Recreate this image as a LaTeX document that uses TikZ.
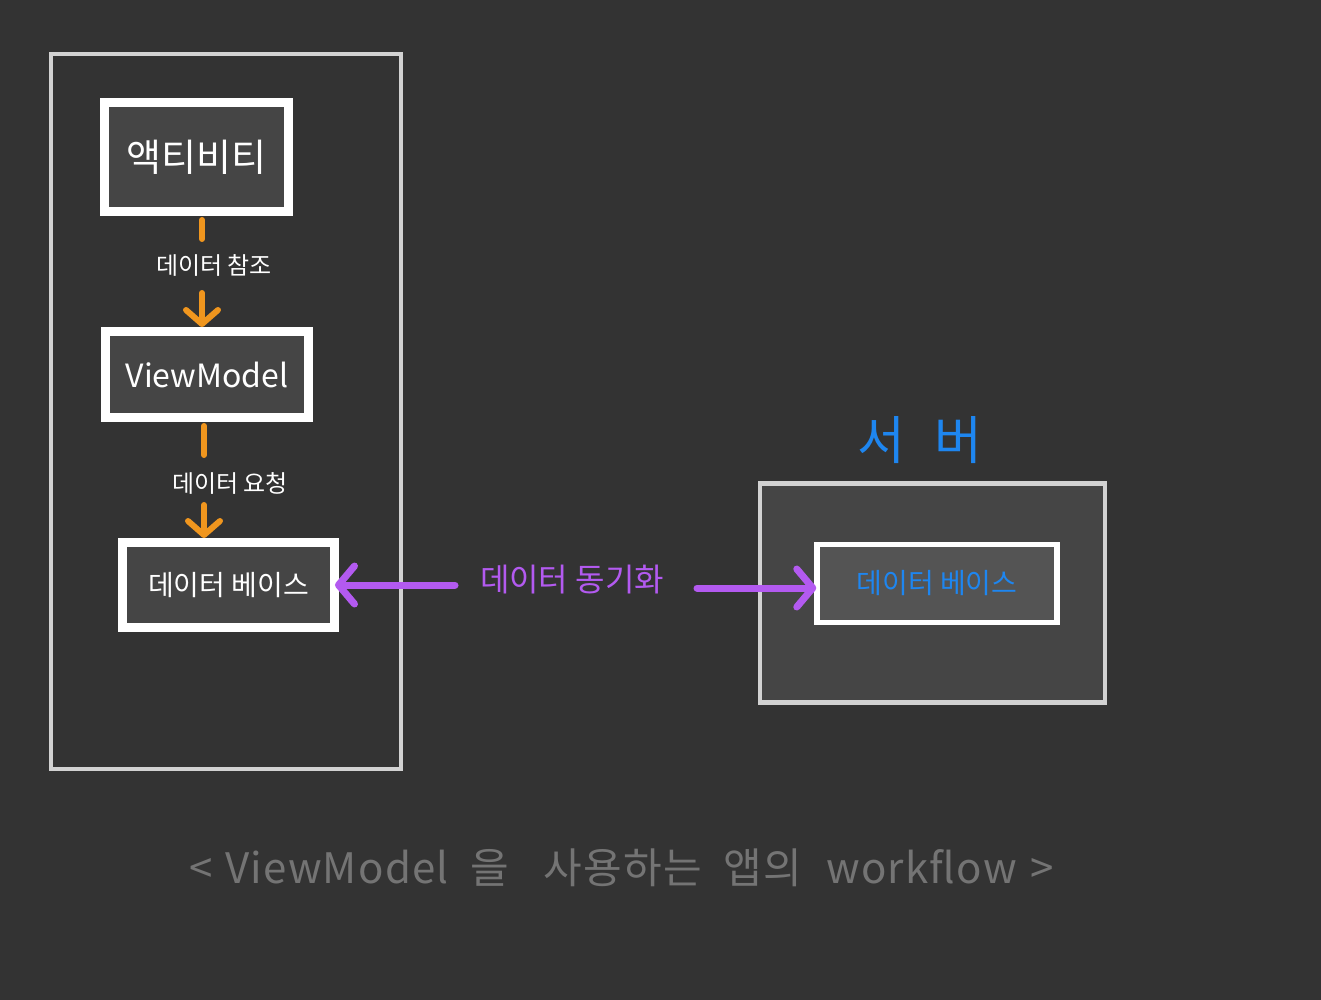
\documentclass[tikz,border=0pt]{standalone}
\usepackage{fontspec}
\setmainfont{Noto Sans CJK KR}
\usetikzlibrary{arrows.meta}
\definecolor{bg}{HTML}{333333}
\definecolor{boxfill}{HTML}{454545}
\definecolor{frame}{HTML}{D2D2D2}
\definecolor{orng}{HTML}{F0961E}
\definecolor{purp}{HTML}{B35AF0}
\definecolor{blu}{HTML}{1E86F0}
\definecolor{cap}{HTML}{747474}
\tikzset{
  whitebox/.style={draw=white, line width=9pt, fill=boxfill, text=white, inner sep=0pt},
  framebox/.style={draw=frame, line width=4.5pt, inner sep=0pt},
  lbl/.style={text=white, font=\fontsize{24}{28}\selectfont, inner sep=2pt},
  orarrow/.style={draw=orng, line width=6pt, line cap=round},
  orhead/.style={orarrow, -{Straight Barb[length=14pt, width=32pt, line width=6pt, round]}},
  pparrow/.style={draw=purp, line width=7pt, line cap=round, -{Straight Barb[length=16pt, width=38pt, line width=7pt, round]}},
}
\begin{document}
\begin{tikzpicture}[x=1pt, y=-1pt]
\fill[bg] (0,0) rectangle (1321,1000);
\useasboundingbox (0,0) rectangle (1321,1000);
% left frame
\node[framebox, minimum width=350pt, minimum height=715pt] (app) at (226,411.5) {};
% boxes
\node[whitebox, minimum width=184pt, minimum height=109pt, font=\fontsize{38}{44}\selectfont] (act) at (196.5,157) {액티비티};
\node[whitebox, minimum width=203pt, minimum height=86pt, font=\fontsize{32}{38}\selectfont] (vm) at (207,374.5) {ViewModel};
\node[whitebox, minimum width=212pt, minimum height=85pt, font=\fontsize{28}{34}\selectfont] (dbl) at (228.5,585) {데이터 베이스};
% labels
\node[lbl] (l1) at (214,265) {데이터 참조};
\node[lbl] (l2) at (230,483) {데이터 요청};
% orange connectors
\draw[orarrow] (act.south -| 202,0) ++(0,4) -- (202,239);
\draw[orhead] (202,293) -- (vm.north -| 202,0);
\draw[orarrow] (vm.south -| 204,0) ++(0,4) -- (204,455);
\draw[orhead] (204,505) -- (dbl.north -| 204,0);
% server
\node[text=blu, font=\fontsize{52}{58}\selectfont] (srvt) at (920,440) {서\hspace{30pt}버};
\node[framebox, fill=boxfill, minimum width=345pt, minimum height=219pt] (srv) at (932.5,593) {};
\node[draw=white, line width=5.5pt, fill=boxfill!92!white, minimum width=240pt, minimum height=78pt, text=blu, font=\fontsize{28}{34}\selectfont, inner sep=0pt] (dbs) at (937,583.5) {데이터 베이스};
% sync
\node[text=purp, font=\fontsize{32}{38}\selectfont, inner sep=2pt] (sync) at (572,580) {데이터 동기화};
\draw[pparrow] (455,585) -- ([xshift=-4pt]dbl.east |- 0,585);
\draw[pparrow] (697,588) -- ([xshift=2pt]dbs.west |- 0,588);
% caption
\node[text=cap, font=\fontsize{42}{48}\selectfont\addfontfeatures{LetterSpace=3}] (capt) at (622,868) {<\hspace{12pt}ViewModel\hspace{22pt}을\hspace{34pt}사용하는\hspace{22pt}앱의\hspace{24pt}workflow\hspace{14pt}>};
\end{tikzpicture}
\end{document}
